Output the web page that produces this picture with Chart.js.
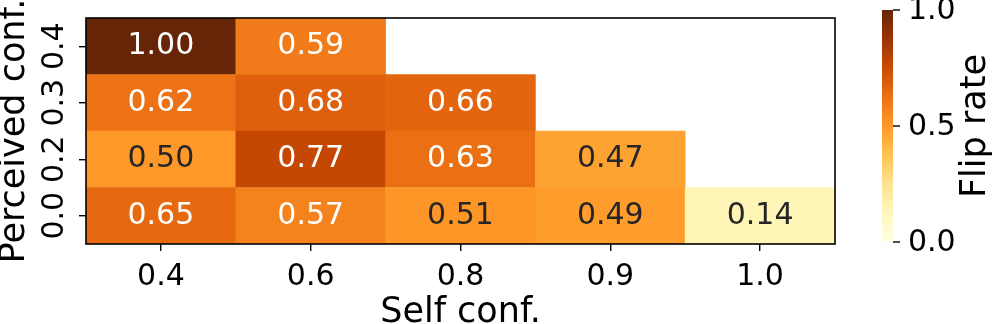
<!DOCTYPE html>
<html>
<head>
<meta charset="utf-8">
<script src="https://cdn.jsdelivr.net/npm/chart.js@4"></script>
<style>
  html, body { margin: 0; padding: 0; background: #fff; }
  #wrap { width: 997px; height: 324px; }
</style>
</head>
<body>
<div id="wrap"><canvas id="heat" width="997" height="324"></canvas></div>
<script>
// heatmap data – rows listed bottom to top
const selfConf      = ["0.4", "0.6", "0.8", "0.9", "1.0"];
const perceivedConf = ["0.0", "0.2", "0.3", "0.4"];
const row00 = [0.65, 0.57, 0.51, 0.49, 0.14];
const row02 = [0.50, 0.77, 0.63, 0.47, null];
const row03 = [0.62, 0.68, 0.66, null, null];
const row04 = [1.00, 0.59, null, null, null];
const rows = [row00, row02, row03, row04];
const cbTicks = [0.0, 0.5, 1.0];

// matplotlib YlOrBr
const YLORBR = ["#ffffe5", "#fff7bc", "#fee391", "#fec44f", "#fe9929",
                "#ec7014", "#cc4c02", "#993404", "#662506"];
const FONT = "'DejaVu Sans', sans-serif";

function hexRgb(h) {
  return [1, 3, 5].map(i => parseInt(h.slice(i, i + 2), 16));
}
function cmap(v) {
  const t = Math.max(0, Math.min(1, v)) * (YLORBR.length - 1);
  const i = Math.min(Math.floor(t), YLORBR.length - 2);
  const f = t - i;
  const a = hexRgb(YLORBR[i]), b = hexRgb(YLORBR[i + 1]);
  const c = a.map((x, k) => Math.round(x + (b[k] - x) * f));
  return `rgb(${c[0]},${c[1]},${c[2]})`;
}

const datasets = rows.map((vals, r) => ({
  label: perceivedConf[r],
  data: vals.map(v => v == null ? null : [r, r + 1]),
  values: vals,
  backgroundColor: vals.map(v => v == null ? "transparent" : cmap(v)),
  borderWidth: 0,
  barPercentage: 1,
  categoryPercentage: 1,
  grouped: false,
}));

/** cell labels, frame and colorbar */
const heatExtras = {
  id: "heatExtras",
  afterDatasetsDraw(chart) {
    const ctx = chart.ctx;
    const area = chart.chartArea;
    ctx.save();
    ctx.font = `30px ${FONT}`;
    ctx.textAlign = "center";
    ctx.textBaseline = "middle";
    chart.data.datasets.forEach((ds, di) => {
      const meta = chart.getDatasetMeta(di);
      meta.data.forEach((bar, i) => {
        const v = ds.values[i];
        if (v == null) return;
        const p = bar.getProps(["x", "y", "base"], true);
        ctx.fillStyle = v > 0.55 ? "#ffffff" : "#262626";
        ctx.fillText(v.toFixed(2), p.x, (p.y + p.base) / 2);
      });
    });

    // axes frame
    ctx.strokeStyle = "#000";
    ctx.lineWidth = 1.6;
    ctx.strokeRect(area.left, area.top, area.right - area.left, area.bottom - area.top);

    // colorbar
    const cx = 882, cw = 11, top = 10, bot = 242;
    const g = ctx.createLinearGradient(0, bot, 0, top);
    YLORBR.forEach((c, i) => g.addColorStop(i / (YLORBR.length - 1), c));
    ctx.fillStyle = g;
    ctx.fillRect(cx, top, cw, bot - top);
    ctx.fillStyle = "#000";
    ctx.lineWidth = 1.4;
    ctx.textAlign = "left";
    ctx.font = `30px ${FONT}`;
    cbTicks.forEach(t => {
      const y = bot - t * (bot - top);
      ctx.beginPath();
      ctx.moveTo(cx + cw, y);
      ctx.lineTo(cx + cw + 7, y);
      ctx.stroke();
      ctx.fillText(t.toFixed(1), cx + cw + 15, y + 1);
    });
    ctx.translate(976, (top + bot) / 2);
    ctx.rotate(-Math.PI / 2);
    ctx.textAlign = "center";
    ctx.font = `35px ${FONT}`;
    ctx.fillText("Flip rate", 0, 0);
    ctx.restore();
  },
};

new Chart(document.getElementById("heat"), {
  type: "bar",
  data: { labels: selfConf, datasets },
  options: {
    responsive: false,
    animation: false,
    layout: { padding: { left: 0, top: 12, right: 162, bottom: 0 } },
    plugins: { legend: { display: false }, tooltip: { enabled: false } },
    scales: {
      x: {
        grid: { offset: false, drawOnChartArea: false, tickLength: 7, color: "#000", lineWidth: 1.4 },
        border: { display: false },
        ticks: { color: "#000", font: { family: FONT, size: 30 }, padding: 8, maxRotation: 0 },
        title: { display: true, text: "Self conf.", color: "#000",
                 font: { family: FONT, size: 35 }, padding: { top: 0, bottom: -10 } },
        afterFit(scale) { scale.height = 80; },
      },
      y: {
        min: 0,
        max: perceivedConf.length,
        grid: { drawOnChartArea: false, tickLength: 7, color: "#000", lineWidth: 1.4 },
        border: { display: false },
        afterBuildTicks(scale) {
          scale.ticks = perceivedConf.map((_, i) => ({ value: i + 0.5 }));
        },
        ticks: {
          color: "#000",
          font: { family: FONT, size: 30 },
          autoSkip: false,
          minRotation: 90,
          maxRotation: 90,
          crossAlign: "center",
          padding: 0,
          callback: v => perceivedConf[Math.floor(v)],
        },
        title: { display: true, text: "Perceived conf.", color: "#000",
                 font: { family: FONT, size: 35 }, padding: { top: -6, bottom: 0 } },
        afterFit(scale) { scale.width = 86; },
      },
    },
  },
  plugins: [heatExtras],
});
</script>
</body>
</html>
